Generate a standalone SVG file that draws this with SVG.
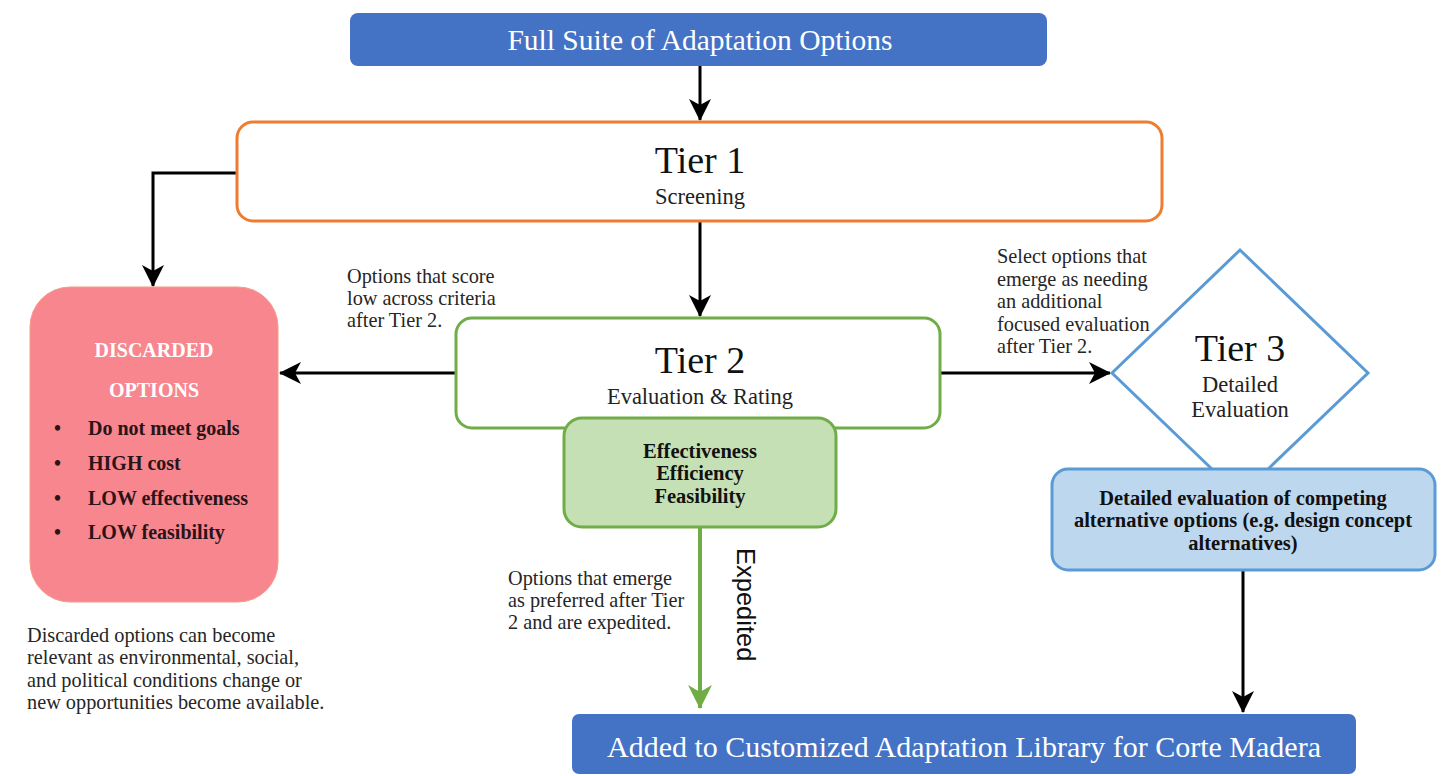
<svg xmlns="http://www.w3.org/2000/svg" width="1453" height="776" viewBox="0 0 1453 776">
<defs>
<style>
.serif{font-family:"Liberation Serif","Times New Roman",serif;}
.sans{font-family:"Liberation Sans",Arial,sans-serif;}
.note{font-family:"Liberation Serif","Times New Roman",serif;font-size:20.3px;fill:#262626;}
.title{font-family:"Liberation Serif","Times New Roman",serif;font-size:38px;fill:#111;text-anchor:middle;}
.sub{font-family:"Liberation Serif","Times New Roman",serif;font-size:22.5px;fill:#222;text-anchor:middle;}
.conn{fill:none;stroke:#000;stroke-width:3;}
</style>
<marker id="ah" markerUnits="userSpaceOnUse" markerWidth="24" markerHeight="24" refX="21" refY="12" orient="auto">
<path d="M0,1 L22,12 L0,23 L6,12 z" fill="#000"/>
</marker>
<marker id="ahg" markerUnits="userSpaceOnUse" markerWidth="26" markerHeight="26" refX="23" refY="13" orient="auto">
<path d="M0,1 L24,13 L0,25 L7,13 z" fill="#70AD47"/>
</marker>
</defs>
<rect width="1453" height="776" fill="#fff"/>

<g id="connectors">
<path class="conn" d="M700,66 V120" marker-end="url(#ah)"/>
<path class="conn" d="M237,173 H153 V286" marker-end="url(#ah)"/>
<path class="conn" d="M700,221 V316" marker-end="url(#ah)"/>
<path class="conn" d="M456,373 H280" marker-end="url(#ah)"/>
<path class="conn" d="M940,373 H1110" marker-end="url(#ah)"/>
<path d="M700,527 V708" fill="none" stroke="#70AD47" stroke-width="4" marker-end="url(#ahg)"/>
<path class="conn" d="M1243,570 V712" marker-end="url(#ah)"/>
</g>

<g id="full-suite">
<rect x="350" y="13" width="697" height="53" rx="8" fill="#4472C4"/>
<text class="serif" x="700" y="50" font-size="29.5" fill="#fff" text-anchor="middle">Full Suite of Adaptation Options</text>
</g>

<g id="tier1">
<rect x="237" y="122" width="925" height="99" rx="16" fill="#fff" stroke="#ED7D31" stroke-width="3"/>
<text class="title" x="700" y="173">Tier 1</text>
<text class="sub" x="700" y="204" font-size="22">Screening</text>
</g>

<g id="discarded">
<rect x="30" y="287" width="248" height="315" rx="40" fill="#F7868F" stroke="#F59A88" stroke-width="1"/>
<text class="serif" x="154" y="357" font-size="20" font-weight="bold" fill="#fff" text-anchor="middle">DISCARDED</text>
<text class="serif" x="154" y="397" font-size="20" font-weight="bold" fill="#fff" text-anchor="middle">OPTIONS</text>
<g class="serif" font-size="20" font-weight="bold" fill="#2a1418">
<text x="54" y="435">•</text><text x="88" y="435">Do not meet goals</text>
<text x="54" y="470">•</text><text x="88" y="470">HIGH cost</text>
<text x="54" y="505">•</text><text x="88" y="505">LOW effectiveness</text>
<text x="54" y="539">•</text><text x="88" y="539">LOW feasibility</text>
</g>
</g>

<g id="note-discarded">
<text class="note" x="27" y="642">Discarded options can become</text>
<text class="note" x="27" y="664">relevant as environmental, social,</text>
<text class="note" x="27" y="687">and political conditions change or</text>
<text class="note" x="27" y="709">new opportunities become available.</text>
</g>

<g id="note-low">
<text class="note" x="347" y="283">Options that score</text>
<text class="note" x="347" y="305">low across criteria</text>
<text class="note" x="347" y="327">after Tier 2.</text>
</g>

<g id="tier2">
<rect x="456" y="318" width="484" height="110" rx="16" fill="#fff" stroke="#70AD47" stroke-width="3"/>
<text class="title" x="700" y="373">Tier 2</text>
<text class="sub" x="700" y="404">Evaluation &amp; Rating</text>
</g>

<g id="criteria">
<rect x="564" y="418" width="272" height="109" rx="18" fill="#C5E0B4" stroke="#70AD47" stroke-width="3"/>
<g class="serif" font-size="20.5" font-weight="bold" fill="#111" text-anchor="middle">
<text x="700" y="458">Effectiveness</text>
<text x="700" y="480">Efficiency</text>
<text x="700" y="503">Feasibility</text>
</g>
</g>

<g id="note-select">
<text class="note" x="997" y="263">Select options that</text>
<text class="note" x="997" y="286">emerge as needing</text>
<text class="note" x="997" y="308">an additional</text>
<text class="note" x="997" y="331">focused evaluation</text>
<text class="note" x="997" y="353">after Tier 2.</text>
</g>

<g id="tier3">
<path d="M1240,250 L1368,373 L1240,496 L1112,373 z" fill="#fff" stroke="#5B9BD5" stroke-width="3"/>
<text class="title" x="1240" y="361">Tier 3</text>
<text class="sub" x="1240" y="392" font-size="23">Detailed</text>
<text class="sub" x="1240" y="417" font-size="23">Evaluation</text>
</g>

<g id="detailed-box">
<rect x="1052" y="469" width="383" height="101" rx="16" fill="#BDD7EE" stroke="#5B9BD5" stroke-width="3"/>
<g class="serif" font-size="20.5" font-weight="bold" fill="#111" text-anchor="middle">
<text x="1243" y="505">Detailed evaluation of competing</text>
<text x="1243" y="527">alternative options (e.g. design concept</text>
<text x="1243" y="550">alternatives)</text>
</g>
</g>

<g id="note-expedited">
<text class="note" x="508" y="585">Options that emerge</text>
<text class="note" x="508" y="607">as preferred after Tier</text>
<text class="note" x="508" y="629">2 and are expedited.</text>
</g>

<g id="expedited-label">
<text class="sans" transform="translate(737,548) rotate(90)" font-size="25.5" fill="#111">Expedited</text>
</g>

<g id="library">
<rect x="572" y="714" width="784" height="60" rx="7" fill="#4472C4"/>
<text class="serif" x="964" y="757" font-size="30" fill="#fff" text-anchor="middle">Added to Customized Adaptation Library for Corte Madera</text>
</g>
</svg>
